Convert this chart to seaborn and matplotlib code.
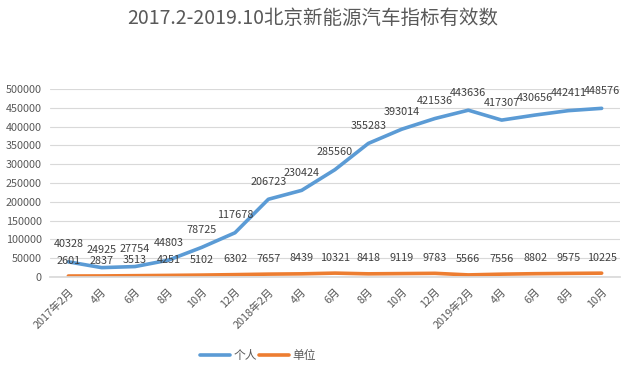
import matplotlib
matplotlib.use("Agg")
import matplotlib.pyplot as plt
import seaborn as sns
import pandas as pd

categories = ["2017年2月", "4月", "6月", "8月", "10月", "12月",
              "2018年2月", "4月", "6月", "8月", "10月", "12月",
              "2019年2月", "4月", "6月", "8月", "10月"]
personal = [40328, 24925, 27754, 44803, 78725, 117678, 206723, 230424, 285560,
            355283, 393014, 421536, 443636, 417307, 430656, 442411, 448576]
unit = [2601, 2837, 3513, 4251, 5102, 6302, 7657, 8439, 10321,
        8418, 9119, 9783, 5566, 7556, 8802, 9575, 10225]
series_names = ["个人", "单位"]
title = "2017.2-2019.10北京新能源汽车指标有效数"

sns.set_theme(style="white")
plt.rcParams["font.family"] = ["Noto Sans CJK SC", "DejaVu Sans"]

n = len(categories)
df = pd.DataFrame({
    "x": list(range(n)) * 2,
    "value": personal + unit,
    "series": [series_names[0]] * n + [series_names[1]] * n,
})

fig = plt.figure(figsize=(6.32, 3.76), dpi=100)
W, H = 632, 376
ax = fig.add_axes([50 / W, 1 - 277 / H, 570 / W, (277 - 89) / H])

palette = {"个人": "#5B9BD5", "单位": "#ED7D31"}
sns.lineplot(data=df, x="x", y="value", hue="series", palette=palette,
             linewidth=2.6, ax=ax, legend=True)

fs = 7.8
ax.set_xlim(-0.55, n - 0.45)
ax.set_ylim(0, 500000)
ax.set_yticks(range(0, 500001, 50000))
ax.set_yticklabels([str(v) for v in range(0, 500001, 50000)], fontsize=fs, color="#595959")
ax.set_xticks(range(n))
ax.set_xticklabels(categories, rotation=45, ha="right", rotation_mode="anchor",
                   fontsize=fs, color="#595959")
ax.tick_params(axis="y", length=0, pad=6)
ax.tick_params(axis="x", length=0, pad=7)
ax.grid(axis="y", color="#D9D9D9", linewidth=0.8)
for s in ["top", "right", "left"]:
    ax.spines[s].set_visible(False)
ax.spines["bottom"].set_color("#D9D9D9")
ax.set_xlabel("")
ax.set_ylabel("")

for i, v in enumerate(personal):
    ax.annotate(str(v), (i, v), xytext=(0, 9), textcoords="offset points",
                ha="center", va="bottom", fontsize=fs, color="#404040")
for i, v in enumerate(unit):
    ax.annotate(str(v), (i, v), xytext=(0, 7.5), textcoords="offset points",
                ha="center", va="bottom", fontsize=fs, color="#404040")

fig.text(313 / W, 1 - 18 / H, title, ha="center", va="center", fontsize=14, color="#595959")

leg = ax.legend(loc="center", bbox_to_anchor=(258 / W, 1 - 356 / H),
                bbox_transform=fig.transFigure, ncol=2, frameon=False,
                fontsize=8.5, handlelength=2.5, columnspacing=0.2, handletextpad=0.3)
for t in leg.get_texts():
    t.set_color("#595959")

fig.savefig("out.png", dpi=100)
